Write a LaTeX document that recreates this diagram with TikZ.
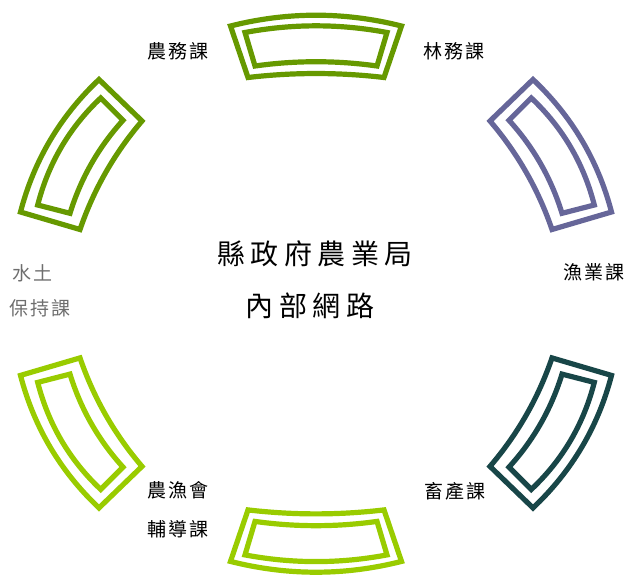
\documentclass[tikz,border=0pt]{standalone}
\usepackage{fontspec}
\usepackage{xcolor}
\usepackage{tikz}
\usetikzlibrary{calc}
\newfontfamily\cjk[LetterSpace=10]{Noto Sans CJK TC}
\newfontfamily\cjkwide[LetterSpace=20]{Noto Sans CJK TC}
\definecolor{segGreen}{RGB}{102,153,0}
\definecolor{segLight}{RGB}{153,204,0}
\definecolor{segPurple}{RGB}{102,102,153}
\definecolor{segTeal}{RGB}{24,70,72}
\definecolor{labGray}{RGB}{110,110,110}

\newcommand{\topseg}[1]{%
  \draw[seg,#1] (230.5,26) .. controls (287.5,11.6) and (344.5,11.6) .. (401.5,26) -- (384,77.5) .. controls (338.7,72.2) and (293.3,72.2) .. (248,77.5) -- cycle;
  \draw[seg,#1] (245,32.5) .. controls (292.3,23.6) and (339.7,23.6) .. (387,32.5) -- (377,66) .. controls (336.3,60.3) and (295.7,60.3) .. (255,66) -- cycle;}
\newcommand{\sideseg}[1]{%
  \draw[seg,#1] (533,79.5) .. controls (571.8,116.2) and (598,160.3) .. (611.5,212) -- (552,229.5) .. controls (538.2,189.2) and (517.5,153.1) .. (490,121) -- cycle;
  \draw[seg,#1] (531.3,98) .. controls (562.6,127.5) and (583.6,163.2) .. (594.3,205) -- (562,213.3) .. controls (551.2,178.2) and (533.5,147.2) .. (509,120.3) -- cycle;}

\begin{document}
\begin{tikzpicture}[x=1pt,y=-1pt]

		\tikzstyle{seg}   = [line width=5.2pt, line join=miter]
		\tikzstyle{lab}   = [font=\cjk\fontsize{19}{19}\selectfont, inner sep=0pt]
		\tikzstyle{title} = [font=\cjkwide\fontsize{28}{28}\selectfont, inner sep=0pt]
		\useasboundingbox (0,0) rectangle (626,576);

		\topseg{segGreen}
		\sideseg{segPurple}
		\begin{scope}[yshift=-587.4pt, yscale=-1]
			\topseg{segLight}
			\sideseg{segTeal}
		\end{scope}
		\begin{scope}[xshift=632pt, xscale=-1]
			\sideseg{segGreen}
		\end{scope}
		\begin{scope}[xshift=632pt, yshift=-587.4pt, xscale=-1, yscale=-1]
			\sideseg{segLight}
		\end{scope}

		\node [lab](nongwu) at (178,51) {農務課};
		\node [lab](linwu) at (454,51) {林務課};
		\node [lab](yuye) at (594,272) {漁業課};
		\node [lab](xuchan) at (455,491) {畜產課};
		\node [lab](nongyu) at (178,490) {農漁會};
		\node [lab](fudao) at (178,529) {輔導課};
		\node [lab, text=labGray](shuitu) at (32.5,273.7) {水土};
		\node [lab, text=labGray](baochi) at (40,308.3) {保持課};
		\node [title](bureau) at (315,254) {縣政府農業局};
		\node [title](network) at (310,306) {內部網路};

	\end{tikzpicture}
\end{document}
